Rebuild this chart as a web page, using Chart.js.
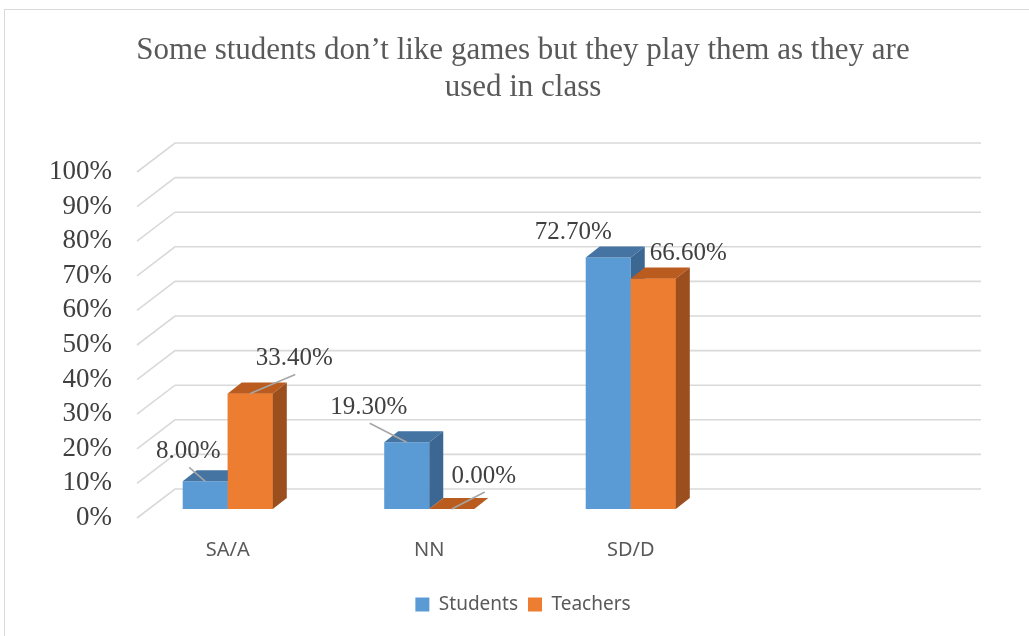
<!DOCTYPE html>
<html>
<head>
<meta charset="utf-8">
<script src="https://cdn.jsdelivr.net/npm/chart.js@4.4.1/dist/chart.umd.min.js"></script>
<style>
  body { margin: 0; background: #fff; overflow: hidden; }
  #frame { position: absolute; left: 4px; top: 9px; width: 1100px; height: 700px; border: 1px solid #d9d9d9; }
  #canvasContainer { position: absolute; left: 0; top: 0; width: 1029px; height: 636px; }
</style>
</head>
<body>
<div id="frame"></div>
<div id="canvasContainer"><canvas id="Grafica" width="1029" height="636"></canvas></div>
<script>
// data
const categories = ['SA/A', 'NN', 'SD/D', ''];
const students = [8.0, 19.3, 72.7, null];
const teachers = [33.4, 0.0, 66.6, null];
const yTicks = [0, 10, 20, 30, 40, 50, 60, 70, 80, 90, 100];

const titleLines = ['Some students don\u2019t like games but they play them as they are', 'used in class'];

// colours: front, top, side
const blueFaces = ['#5B9BD5', '#4574A3', '#3B6792'];
const orangeFaces = ['#ED7D31', '#BA5C1F', '#9B4F1E'];

// where each value label sits, relative to the top of its bar, and if it has a leader line
const labelOffsets = [
    [[-17, -30, true], [-38, -35, true], [-35, -25, false]],
    [[44, -35, true], [32, -33, true], [35, -25, false]]
];

const depth = {dx: 14, dy: -11};   // bar depth
const wall = {dx: 38, dy: -29};    // floor to back wall
const barShift = -9;               // bars stand a bit behind the front edge

function getChart(){
    return document.getElementById('Grafica');
}

function face(ctx, pts, color){
    ctx.beginPath();
    ctx.moveTo(pts[0][0], pts[0][1]);
    for (let i=1; i<pts.length; i++){ctx.lineTo(pts[i][0], pts[i][1]);}
    ctx.closePath();
    ctx.fillStyle = color;
    ctx.fill();
}

const threeD = {
    id: 'threeD',
    beforeDatasetsDraw(chart){
        let ctx = chart.ctx;
        let y = chart.scales.y;
        let area = chart.chartArea;
        ctx.save();
        ctx.strokeStyle = '#d9d9d9';
        ctx.lineWidth = 1.6;
        yTicks.forEach(function(v){
            let py = y.getPixelForValue(v);
            let x0 = area.left + 10;
            ctx.beginPath();
            ctx.moveTo(x0, py);
            ctx.lineTo(x0 + wall.dx, py + wall.dy);
            ctx.lineTo(area.right + 48, py + wall.dy);
            ctx.stroke();
        });
        ctx.restore();
        ctx.save();
        ctx.translate(0, barShift);
    },
    afterDatasetsDraw(chart){
        let ctx = chart.ctx;
        let metas = [chart.getDatasetMeta(0), chart.getDatasetMeta(1)];
        let faces = [blueFaces, orangeFaces];
        for (let i=0; i<categories.length; i++){
            for (let d=0; d<2; d++){
                let bar = metas[d].data[i];
                let v = chart.data.datasets[d].data[i];
                if (!bar || v === null) continue;
                let l = bar.x - bar.width/2, r = bar.x + bar.width/2;
                let t = bar.y, b = bar.base;
                if (d === 1) bar.draw(ctx);
                face(ctx, [[l,t],[r,t],[r+depth.dx,t+depth.dy],[l+depth.dx,t+depth.dy]], faces[d][1]);
                face(ctx, [[r,t],[r+depth.dx,t+depth.dy],[r+depth.dx,b+depth.dy],[r,b]], faces[d][2]);
            }
        }
        // value labels
        ctx.font = '25px "Liberation Serif", "Times New Roman", serif';
        ctx.textAlign = 'center';
        ctx.textBaseline = 'middle';
        for (let d=0; d<2; d++){
            for (let i=0; i<3; i++){
                let bar = metas[d].data[i];
                let v = chart.data.datasets[d].data[i];
                let o = labelOffsets[d][i];
                let lx = bar.x + o[0], ly = bar.y + o[1];
                if (o[2]){
                    ctx.beginPath();
                    ctx.strokeStyle = '#a6a6a6';
                    ctx.lineWidth = 1.5;
                    ctx.moveTo(lx + 1, ly + 16);
                    ctx.lineTo(bar.x, bar.y);
                    ctx.stroke();
                }
                ctx.fillStyle = '#404040';
                ctx.fillText(v.toFixed(2) + '%', lx, ly);
            }
        }
        ctx.restore();
    }
};

let config = {
    'type': 'bar',
    'data': {
        'labels': categories,
        'datasets': [
            {'label': 'Students', 'data': students, 'backgroundColor': blueFaces[0], 'borderWidth': 0},
            {'label': 'Teachers', 'data': teachers, 'backgroundColor': orangeFaces[0], 'borderWidth': 0}
        ]
    },
    'options': {
        'responsive': false,
        'animation': false,
        'categoryPercentage': 0.447,
        'barPercentage': 1,
        'layout': {'padding': {'top': 32, 'left': 27, 'right': 10, 'bottom': 12}},
        'plugins': {
            'title': {
                'display': true,
                'text': titleLines,
                'color': '#595959',
                'font': {'family': '"Liberation Serif", "Times New Roman", serif', 'size': 31, 'weight': 'normal', 'lineHeight': 1.2},
                'padding': {'top': 0, 'bottom': 65.6}
            },
            'legend': {
                'position': 'bottom',
                'labels': {
                    'boxWidth': 14, 'boxHeight': 14, 'padding': 10,
                    'color': '#595959',
                    'font': {'family': '"Noto Sans", "Open Sans", sans-serif', 'size': 19}
                }
            },
            'tooltip': {'enabled': false}
        },
        'scales': {
            'x': {
                'grid': {'display': false, 'drawTicks': false},
                'border': {'display': false},
                'ticks': {'color': '#595959', 'padding': 20, 'font': {'family': '"Noto Sans", "Open Sans", sans-serif', 'size': 20}},
                'afterFit': function(s){ s.height = 67; }
            },
            'y': {
                'min': 0, 'max': 100,
                'grid': {'display': false, 'drawTicks': false},
                'border': {'display': false},
                'afterBuildTicks': function(s){ s.ticks = yTicks.map(v => ({'value': v})); },
                'ticks': {
                    'color': '#404040', 'padding': 15, 'autoSkip': false,
                    'font': {'family': '"Liberation Serif", "Times New Roman", serif', 'size': 27},
                    'callback': v => v + '%'
                },
                'afterFit': function(s){ s.width = 100; }
            },
            // empty room on the right of the plot, so title and legend stay centred on the whole chart
            'yRight': {
                'position': 'right',
                'grid': {'display': false, 'drawTicks': false},
                'border': {'display': false},
                'ticks': {'display': false},
                'afterFit': function(s){ s.width = 86; }
            }
        }
    },
    'plugins': [threeD]
};

new Chart(getChart().getContext('2d'), config);
</script>
</body>
</html>
